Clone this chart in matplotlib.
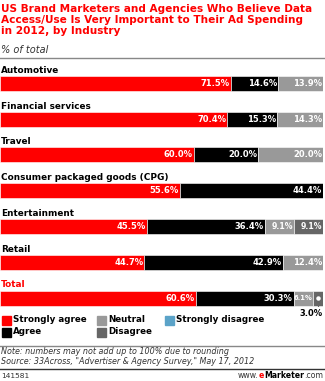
import numpy as np
import matplotlib.pyplot as plt
from matplotlib.patches import Rectangle

industries = ["Automotive", "Financial services", "Travel",
              "Consumer packaged goods (CPG)", "Entertainment", "Retail", "Total"]
strongly_agree = [71.5, 70.4, 60.0, 55.6, 45.5, 44.7, 60.6]
agree = [14.6, 15.3, 20.0, 44.4, 36.4, 42.9, 30.3]
neutral = [13.9, 14.3, 20.0, 0.0, 9.1, 12.4, 6.1]
disagree = [0.0, 0.0, 0.0, 0.0, 9.1, 0.0, 3.0]
strongly_disagree = [0.0, 0.0, 0.0, 0.0, 0.0, 0.0, 0.0]

series = [strongly_agree, agree, neutral, disagree, strongly_disagree]
names = ["Strongly agree", "Agree", "Neutral", "Disagree", "Strongly disagree"]
colors = ["#ff0000", "#000000", "#999999", "#666666", "#5ba3c8"]

W, H = 325, 381
plt.rcParams['font.family'] = ['DejaVu Sans']
fig = plt.figure(figsize=(W / 100, H / 100), dpi=100)

# overlay axes in pixel units for text and rules
ov = fig.add_axes([0, 0, 1, 1])
ov.set_xlim(0, W)
ov.set_ylim(H, 0)
ov.axis('off')

ov.text(1, 4, "US Brand Marketers and Agencies Who Believe Data\n"
        "Access/Use Is Very Important to Their Ad Spending\n"
        "in 2012, by Industry", color="#ff0000", fontsize=7.55,
        fontweight="bold", va="top", ha="left", linespacing=1.15)
ov.text(1, 45, "% of total", color="#333333", fontsize=7.0, style="italic",
        va="top", ha="left")
ov.plot([0, W], [58, 58], color="#888888", lw=1)

# bar axes
top_px, bot_px = 64, 307
row_h = 35.8
y_top = -(83.5 - top_px) / row_h
y_bot = (6 * row_h + (bot_px - 298)) / row_h
ax = fig.add_axes([0, 1 - bot_px / H, 323 / W, (bot_px - top_px) / H])
ax.set_xlim(0, 100)
ax.set_ylim(y_bot, y_top)
ax.axis('off')

y = np.arange(len(industries))
left = np.zeros(len(industries))
for vals, c in zip(series, colors):
    vals = np.array(vals)
    ax.barh(y, vals, left=left, height=0.42, color=c, edgecolor="white",
            linewidth=0.4)
    for i, v in enumerate(vals):
        if v <= 0:
            continue
        if industries[i] == "Total" and v < 5:
            continue
        if v < 7:
            fs = 4.9
        elif v < 10:
            fs = 5.6
        else:
            fs = 6.0
        ax.text(left[i] + v - 0.3, i, f"{v:.1f}%", color="white",
                fontsize=fs, fontweight="bold", ha="right", va="center")
    left = left + vals

for i, name in enumerate(industries):
    ax.text(0.2, i - 0.37, name, fontsize=6.4, fontweight="bold",
            color="#ff0000" if name == "Total" else "black",
            ha="left", va="center")

# callout for the small Total disagree segment
ti = industries.index("Total")
xd = left[ti] - disagree[ti] / 2
ax.plot([xd, xd], [ti, ti + 0.3], color="#666666", lw=0.8)
ax.plot([xd], [ti], marker="o", ms=2.2, color="white")
ax.text(100, ti + 0.43, f"{disagree[ti]:.1f}%", fontsize=6.0,
        fontweight="bold", ha="right", va="center")

# legend
leg_pos = [(2, 320), (2, 332), (97, 320), (97, 332), (165, 320)]
for (lx, ly), n, c in zip(leg_pos, names, colors):
    ov.add_patch(Rectangle((lx, ly - 4.5), 9, 9, color=c))
    ov.text(lx + 11, ly, n, fontsize=6.3, fontweight="bold", va="center",
            ha="left")

ov.plot([0, W], [346, 346], color="#888888", lw=1)
ov.text(1, 352, "Note: numbers may not add up to 100% due to rounding",
        fontsize=5.8, style="italic", color="#333333", va="center")
ov.text(1, 362, "Source: 33Across, \"Advertiser & Agency Survey,\" May 17, 2012",
        fontsize=5.8, style="italic", color="#333333", va="center")
ov.plot([0, W], [369, 369], color="#333333", lw=1)
ov.text(1, 376, "141581", fontsize=5.4, color="#333333", va="center")

# www.eMarketer.com, placed piece by piece from the right
fig.canvas.draw()
r = fig.canvas.get_renderer()
pieces = [("www.", "#333333", "normal"), ("e", "#ff0000", "bold"),
          ("Marketer", "#000000", "bold"), (".com", "#333333", "normal")]
xr = 323
for txt, c, w in reversed(pieces):
    t = ov.text(xr, 376, txt, fontsize=5.6, color=c, fontweight=w,
                va="center", ha="right")
    bb = t.get_window_extent(renderer=r)
    xr -= bb.width

fig.savefig("out.png", dpi=100)
